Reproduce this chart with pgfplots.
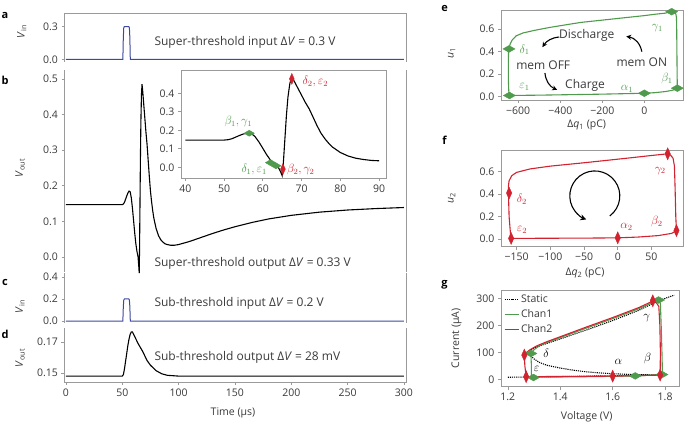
\documentclass[border=0pt]{standalone}
\usepackage{fontspec}
\setmainfont{Open Sans}
\usepackage{pgfplots}
\usepackage{pgfplotstable}
\pgfplotsset{compat=1.18}
\usetikzlibrary{arrows.meta}
\definecolor{frame}{HTML}{9A9A9A}
\definecolor{txt}{HTML}{3A3A3A}
\definecolor{blu}{HTML}{3B4A9E}
\definecolor{grn}{HTML}{4F9A4C}
\definecolor{rd}{HTML}{D2222F}
\pgfplotstableread{
t v
0 0.147
40 0.147
50 0.147
51 0.149
52 0.154
53 0.163
54 0.172
55 0.180
56 0.185
57 0.183
58 0.166
59 0.137
60 0.103
61 0.068
62 0.038
63 0.016
64 0.000
64.6 -0.025
65 -0.045
65.3 0.02
65.7 0.15
66.1 0.28
66.5 0.38
67 0.455
67.5 0.485
68 0.47
69 0.43
70 0.39
71 0.35
72 0.315
73 0.27
74 0.225
75 0.185
76 0.155
77 0.13
78 0.109
80 0.08
82 0.061
84 0.049
86 0.042
88 0.037
90 0.035
93 0.033
96 0.033
100 0.035
110 0.044
120 0.055
130 0.066
140 0.076
150 0.085
165 0.097
180 0.107
200 0.117
225 0.126
250 0.132
275 0.136
300 0.139
}\bdata
\pgfplotsset{
  base/.style={scale only axis, anchor=south west, clip=false,
    tick align=outside, major tick length=3pt,
    tick style={frame, line width=0.6pt},
    xtick pos=bottom, ytick pos=left,
    /pgf/number format/assume math mode=true,
    ticklabel style={font=\fontsize{10.5}{12}\selectfont, text=txt},
    axis line style={frame, line width=0.7pt}},
  left/.style={base, xmin=-1.3, xmax=301.8, width=341.5pt, axis line style={draw=none}},
  gd/.style={only marks, mark=diamond*, mark size=4pt, grn, mark options={xscale=2.0, yscale=0.85}},
  rdm/.style={only marks, mark=diamond*, mark size=4pt, rd, mark options={xscale=0.9, yscale=1.5}},
}
\newcommand{\fs}{\fontsize{12}{14}\selectfont}
\begin{document}
\begin{tikzpicture}[x=1pt,y=1pt]
\useasboundingbox (0,0) rectangle (685,425);
% ---------- a
\begin{axis}[left, at={(64.5pt,363pt)}, height=49pt, ymin=-0.025, ymax=0.426,
  xtick=\empty, ytick={0,0.3}, yticklabels={0.0,0.3}]
\addplot[blu, line width=1pt] coordinates {(0,0) (50.5,0) (50.9,0.2) (51.3,0.29) (51.8,0.3) (55.8,0.3) (56.3,0.29) (56.7,0.2) (57.1,0) (300,0)};
\draw[frame, line width=0.7pt] (rel axis cs:0,0) -- (rel axis cs:0,1) -- (rel axis cs:1,1) -- (rel axis cs:1,0);
\end{axis}
% ---------- b
\begin{axis}[left, at={(64.5pt,153pt)}, height=202pt, ymin=-0.042, ymax=0.525,
  xtick=\empty, ytick={0,0.1,0.2,0.3,0.4,0.5}, yticklabels={0.0,0.1,0.2,0.3,0.4,0.5}]
\addplot[black, line width=1.1pt] table[x=t,y=v] {\bdata};
\draw[frame, line width=0.7pt] (rel axis cs:0,0) -- (rel axis cs:0,1);
\draw[frame, line width=0.7pt] (rel axis cs:1,0) -- (rel axis cs:1,1);
\end{axis}
% ---------- inset
\begin{axis}[base, at={(181pt,247pt)}, width=205pt, height=108pt,
  xmin=38.9, xmax=91.8, ymin=-0.058, ymax=0.526, clip=true,
  axis background/.style={fill=white},
  xtick={40,50,60,70,80,90}, ytick={0,0.1,0.2,0.3,0.4}, yticklabels={0.0,0.1,0.2,0.3,0.4}]
\addplot[black, line width=1.1pt, restrict x to domain=40:90.5] table[x=t,y=v] {\bdata};
\addplot[gd, mark options={xscale=1.7, yscale=0.75}] coordinates {(56.5,0.184) (62,0.025) (63.4,0.008)};
\addplot[rdm, mark options={xscale=0.8, yscale=1.35}] coordinates {(65.2,-0.01) (67.5,0.478)};
\node[grn] at (axis cs:53.7,0.246) {\fs$\beta_1,\gamma_1$};
\node[grn] at (axis cs:57.8,-0.011) {\fs$\delta_1,\varepsilon_1$};
\node[rd] at (axis cs:69.8,-0.011) {\fs$\beta_2,\gamma_2$};
\node[rd] at (axis cs:73.6,0.463) {\fs$\delta_2,\varepsilon_2$};
\end{axis}
% ---------- c
\begin{axis}[left, at={(64.5pt,102pt)}, height=50pt, ymin=-0.018, ymax=0.436,
  xtick=\empty, ytick={0,0.2,0.4}, yticklabels={0.0,0.2,0.4}]
\addplot[blu, line width=1pt] coordinates {(0,0) (50.5,0) (50.9,0.13) (51.3,0.19) (51.8,0.2) (55.8,0.2) (56.3,0.19) (56.7,0.13) (57.1,0) (300,0)};
\draw[frame, line width=0.7pt] (rel axis cs:0,0) -- (rel axis cs:0,1);
\draw[frame, line width=0.7pt] (rel axis cs:1,0) -- (rel axis cs:1,1);
\end{axis}
% ---------- d
\begin{axis}[left, at={(64.5pt,43pt)}, height=54pt, ymin=0.1442, ymax=0.179,
  xtick={0,50,100,150,200,250,300}, ytick={0.15,0.17}, yticklabels={0.15,0.17}]
\addplot[black, line width=1.1pt] coordinates {(0,0.148) (50,0.148) (51,0.149) (52,0.153) (53,0.158) (54,0.163) (55,0.168) (56,0.172) (57,0.175) (58,0.1765) (59,0.1765) (60,0.175) (62,0.172) (64,0.169) (66,0.1665) (68,0.164) (70,0.161) (72,0.158) (75,0.155) (80,0.1515) (85,0.1495) (90,0.1485) (100,0.148) (300,0.148)};
\draw[frame, line width=0.7pt] (rel axis cs:0,1) -- (rel axis cs:0,0) -- (rel axis cs:1,0) -- (rel axis cs:1,1);
\end{axis}
% ---------- e
\begin{axis}[base, at={(501pt,325pt)}, width=182pt, height=90pt,
  xmin=-682, xmax=184, ymin=-0.03, ymax=0.77,
  xtick={-600,-400,-200,0}, xticklabels={−600,−400,−200,0},
  ytick={0,0.2,0.4,0.6}, yticklabels={0.0,0.2,0.4,0.6}]
\addplot[grn, line width=1.1pt] coordinates {(-642,0.01) (-600,0.011) (-500,0.013) (-400,0.016) (-300,0.019) (-200,0.022) (-100,0.026) (0,0.03) (50,0.035) (100,0.045) (130,0.055) (150,0.065) (157,0.075) (156,0.2) (155,0.4) (154,0.6) (153,0.7) (150,0.735) (140,0.75) (127,0.756) (100,0.742) (50,0.732) (0,0.72) (-100,0.70) (-200,0.68) (-300,0.66) (-358,0.643) (-450,0.615) (-520,0.59) (-577,0.566) (-610,0.54) (-628,0.505) (-638,0.47) (-644,0.43) (-646,0.42) (-647,0.3) (-647,0.15) (-645,0.05) (-642,0.01)};
\addplot[gd] coordinates {(-644,0.424) (-642,0.01) (0,0.03) (157,0.075) (130,0.755)};
\node[grn] at (axis cs:-570,0.415) {\fs$\delta_1$};
\node[grn] at (axis cs:-570,0.085) {\fs$\varepsilon_1$};
\node[grn] at (axis cs:-82,0.065) {\fs$\alpha_1$};
\node[grn] at (axis cs:108,0.16) {\fs$\beta_1$};
\node[grn] at (axis cs:62,0.61) {\fs$\gamma_1$};
\node[txt] at (axis cs:-274,0.548) {\fs Discharge};
\node[txt] at (axis cs:-481,0.28) {\fs mem OFF};
\node[txt] at (axis cs:-12,0.31) {\fs mem ON};
\node[txt] at (axis cs:-282,0.104) {\fs Charge};
\draw[-{Stealth[length=5pt,width=5pt]}, line width=1.1pt, black] (axis cs:-405,0.53) to[bend right=25] (axis cs:-485,0.44);
\draw[-{Stealth[length=5pt,width=5pt]}, line width=1.1pt, black] (axis cs:-12,0.40) to[bend right=35] (axis cs:-86,0.535);
\draw[-{Stealth[length=5pt,width=5pt]}, line width=1.1pt, black] (axis cs:-473,0.21) to[bend right=30] (axis cs:-415,0.06);
\end{axis}
% ---------- f
\begin{axis}[base, at={(501pt,178.3pt)}, width=182pt, height=96.7pt,
  xmin=-173, xmax=96.7, ymin=-0.069, ymax=0.794,
  xtick={-150,-100,-50,0,50}, xticklabels={−150,−100,−50,0,50},
  ytick={0,0.2,0.4,0.6}, yticklabels={0.0,0.2,0.4,0.6}]
\addplot[rd, line width=1.1pt] coordinates {(-158,0.005) (-120,0.006) (-80,0.007) (-40,0.008) (0,0.01) (30,0.017) (60,0.03) (80,0.05) (87,0.075) (86,0.2) (85,0.45) (84,0.65) (82,0.72) (78,0.75) (74,0.76) (50,0.745) (20,0.725) (0,0.712) (-50,0.68) (-100,0.65) (-130,0.625) (-150,0.594) (-157,0.565) (-161,0.52) (-162,0.47) (-162,0.41) (-161,0.2) (-159,0.05) (-158,0.005)};
\addplot[rdm] coordinates {(-161,0.41) (-158,0.005) (0,0.01) (87,0.075) (74,0.76)};
\node[rd] at (axis cs:-142,0.354) {\fs$\delta_2$};
\node[rd] at (axis cs:-142,0.08) {\fs$\varepsilon_2$};
\node[rd] at (axis cs:13,0.104) {\fs$\alpha_2$};
\node[rd] at (axis cs:58,0.155) {\fs$\beta_2$};
\node[rd] at (axis cs:63,0.61) {\fs$\gamma_2$};
\draw[-{Stealth[length=6pt,width=6pt]}, line width=1.1pt, black] (axis cs:-34,0.384) ++(-53:25pt) arc[start angle=-53, end angle=250, radius=25pt];
\end{axis}
% ---------- g
\begin{axis}[base, at={(501pt,38.3pt)}, width=178pt, height=96.7pt,
  xmin=1.174, xmax=1.853, ymin=-27, ymax=331,
  xtick={1.2,1.4,1.6,1.8}, xticklabels={1.2,1.4,1.6,1.8},
  ytick={0,100,200,300}, yticklabels={0,100,200,300},
  legend style={at={(rel axis cs:0.01,0.985)}, anchor=north west, draw=none, fill=none,
    font=\fontsize{10.5}{12}\selectfont, row sep=1.5pt, inner sep=1pt},
  legend cell align=left,
  legend image code/.code={\draw[mark repeat=2,mark phase=2] plot coordinates {(0pt,0pt) (7pt,0pt) (14pt,0pt)};}]
\addplot[black, densely dotted, line width=1.1pt] coordinates {(1.2,8) (1.3,9) (1.5,12) (1.7,15) (1.78,16.5) (1.7,17.5) (1.65,19) (1.6,21) (1.55,24) (1.5,28) (1.45,34) (1.4,42) (1.35,52) (1.32,63) (1.3,76) (1.29,85) (1.282,95) (1.283,105) (1.3,117) (1.4,150) (1.5,183) (1.6,218) (1.7,256) (1.76,284) (1.8,300) (1.835,312)};
\addlegendentry{\textcolor{txt}{Static}}
\addplot[grn, line width=1.1pt] coordinates {(1.29,8) (1.4,9) (1.5,10) (1.6,11.5) (1.686,13) (1.75,16) (1.79,18) (1.788,100) (1.785,200) (1.782,280) (1.775,294) (1.7,262) (1.6,225) (1.5,190) (1.4,155) (1.35,137) (1.32,124) (1.30,110) (1.288,96) (1.29,50) (1.29,8)};
\addlegendentry{\textcolor{txt}{Chan1}}
\addplot[rd, line width=1.1pt] coordinates {(1.27,10) (1.4,11) (1.5,11.5) (1.6,12) (1.7,14) (1.781,16) (1.782,100) (1.78,200) (1.776,270) (1.766,285) (1.753,290) (1.7,266) (1.6,229) (1.5,194) (1.4,158) (1.35,140) (1.31,124) (1.285,110) (1.27,99) (1.263,90) (1.265,50) (1.27,10)};
\addlegendentry{\textcolor{txt}{Chan2}}
\addplot[gd, forget plot] coordinates {(1.298,7) (1.288,96) (1.775,294) (1.788,18) (1.686,13)};
\addplot[rdm, forget plot] coordinates {(1.27,10) (1.263,90) (1.753,291) (1.781,16) (1.6,12)};
\node at (axis cs:1.73,226) {\fs$\gamma$};
\node at (axis cs:1.733,78) {\fs$\beta$};
\node at (axis cs:1.622,65) {\fs$\alpha$};
\node at (axis cs:1.346,96) {\fs$\delta$};
\node at (axis cs:1.31,37) {\fs$\varepsilon$};
\end{axis}
% ---------- texts
\node[anchor=west, text=txt] at (151,383) {\fs Super-threshold input Δ\textit{V} = 0.3 V};
\node[anchor=west, text=txt] at (151,162) {\fs Super-threshold output Δ\textit{V} = 0.33 V};
\node[anchor=west, text=txt] at (151,121.7) {\fs Sub-threshold input Δ\textit{V} = 0.2 V};
\node[anchor=west, text=txt] at (151,67.7) {\fs Sub-threshold output Δ\textit{V} = 28 mV};
\node[rotate=90, text=txt] at (21.7,393.3) {\fontsize{10.5}{12}\selectfont\textit{V}\textsubscript{in}};
\node[rotate=90, text=txt] at (20,257) {\fontsize{10.5}{12}\selectfont\textit{V}\textsubscript{out}};
\node[rotate=90, text=txt] at (20,118.3) {\fontsize{10.5}{12}\selectfont\textit{V}\textsubscript{in}};
\node[rotate=90, text=txt] at (20,67) {\fontsize{10.5}{12}\selectfont\textit{V}\textsubscript{out}};
\node[text=txt] at (233,12) {\fontsize{10.5}{12}\selectfont Time (µs)};
\node[rotate=90, text=txt] at (451.7,371.7) {\fontsize{10.5}{12}\selectfont\textit{u}\textsubscript{1}};
\node[text=txt] at (586.7,300) {\fontsize{10.5}{12}\selectfont Δ\textit{q}\textsubscript{1} (pC)};
\node[rotate=90, text=txt] at (451.7,226.7) {\fontsize{10.5}{12}\selectfont\textit{u}\textsubscript{2}};
\node[text=txt] at (585,151.7) {\fontsize{10.5}{12}\selectfont Δ\textit{q}\textsubscript{2} (pC)};
\node[rotate=90, text=txt] at (456.7,86.7) {\fontsize{10.5}{12}\selectfont Current (µA)};
\node[text=txt] at (586.7,8.3) {\fontsize{10.5}{12}\selectfont Voltage (V)};
\foreach \l/\x/\y in {a/5/410, b/5/345, c/5/143, d/5/91, e/444.5/416, f/444.5/285, g/444.5/140}
  \node at (\x,\y) {\fontsize{11}{12}\selectfont\bfseries \l};
\end{tikzpicture}
\end{document}
